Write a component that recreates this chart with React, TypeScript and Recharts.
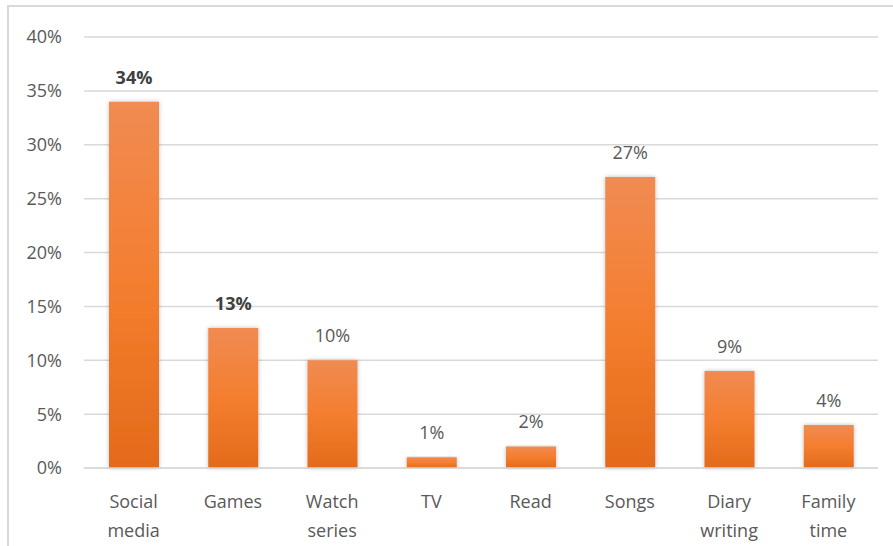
import { Bar, BarChart, CartesianGrid, LabelList, XAxis, YAxis } from 'recharts';

const CATEGORIES = ['Social media', 'Games', 'Watch series', 'TV', 'Read', 'Songs', 'Diary writing', 'Family time'];
const VALUES = [34, 13, 10, 1, 2, 27, 9, 4];
const BOLD_LABELS = ['Social media', 'Games'];
const Y_TICKS = [0, 5, 10, 15, 20, 25, 30, 35, 40];

const FONT = '"Open Sans", sans-serif';
const TEXT = '#595959';
const SIZE = 18;

const data = CATEGORIES.map((name, i) => ({ name, value: VALUES[i] }));

function CategoryTick({ x, y, payload }: any) {
  const words = String(payload.value).split(' ');
  return (
    <text x={x} y={y} textAnchor="middle" fill={TEXT} fontSize={SIZE} fontFamily={FONT}>
      {words.map((w, i) => (
        <tspan key={i} x={x} dy={i === 0 ? 38 : 29}>
          {w}
        </tspan>
      ))}
    </text>
  );
}

function ValueLabel({ x, y, width, value, index }: any) {
  const bold = BOLD_LABELS.includes(CATEGORIES[index]);
  return (
    <text
      x={x + width / 2}
      y={y - 18}
      textAnchor="middle"
      fill={bold ? '#404040' : TEXT}
      fontSize={SIZE}
      fontWeight={bold ? 700 : 400}
      fontFamily={FONT}
    >
      {value}%
    </text>
  );
}

export default function App() {
  return (
    <div style={{ position: 'fixed', left: 0, top: 0, width: 893, height: 546, background: '#fff' }}>
      <div
        style={{
          position: 'absolute',
          left: 7,
          top: 5,
          right: -10,
          bottom: -10,
          borderTop: '2px solid #d9d9d9',
          borderLeft: '2px solid #d9d9d9',
        }}
      />
      <BarChart
        width={893}
        height={546}
        data={data}
        margin={{ top: 37, right: 15, bottom: 0, left: 0 }}
        barSize={50}
        style={{ position: 'absolute', left: 0, top: 0 }}
      >
        <defs>
          <linearGradient id="barFill" x1="0" y1="0" x2="0" y2="1">
            <stop offset="0%" stopColor="#F08B52" />
            <stop offset="50%" stopColor="#F47E2F" />
            <stop offset="100%" stopColor="#E36A1A" />
          </linearGradient>
          <filter id="barShadow" x="-20%" y="-5%" width="140%" height="110%">
            <feDropShadow dx="0" dy="0" stdDeviation="2" floodColor="#000" floodOpacity="0.25" />
          </filter>
        </defs>
        <CartesianGrid vertical={false} stroke="#d9d9d9" strokeWidth={1.5} />
        <XAxis
          dataKey="name"
          height={78}
          axisLine={{ stroke: '#d9d9d9', strokeWidth: 1.5 }}
          tickLine={false}
          tickSize={0}
          tick={<CategoryTick />}
          interval={0}
        />
        <YAxis
          domain={[0, 40]}
          ticks={Y_TICKS}
          width={84}
          axisLine={false}
          tickLine={false}
          tickSize={0}
          tickMargin={22}
          tickFormatter={(v: number) => `${v}%`}
          tick={{ fill: TEXT, fontSize: SIZE, fontFamily: FONT }}
        />
        <Bar dataKey="value" fill="url(#barFill)" filter="url(#barShadow)" isAnimationActive={false}>
          <LabelList dataKey="value" content={<ValueLabel />} />
        </Bar>
      </BarChart>
    </div>
  );
}
